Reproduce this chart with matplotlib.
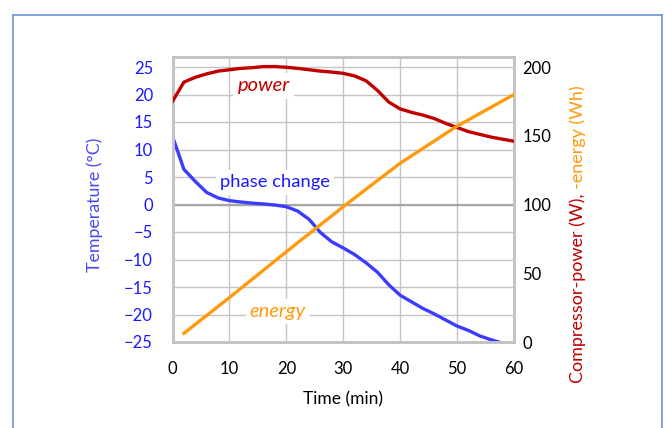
import matplotlib
matplotlib.use("Agg")
import matplotlib.pyplot as plt
from matplotlib.lines import Line2D

plt.rcParams['font.family'] = ['Lato', 'DejaVu Sans']

# ---- data ----
power_time = [0, 2, 4, 6, 8, 10, 12, 14, 16, 18, 20, 22, 24, 26, 28, 30,
              32, 34, 36, 38, 40, 42, 44, 46, 48, 50, 52, 54, 56, 58, 60]
power_w = [175, 189, 192.5, 195, 197, 198, 199, 199.5, 200.3, 200.3, 199.8,
           199, 198, 197, 196.3, 195.4, 193.5, 190, 183, 174.5, 169.5, 167,
           165, 162.5, 159, 156, 153, 151, 149, 147.5, 146]

temp_time = [0, 2, 4, 6, 8, 10, 12, 14, 16, 18, 20, 22, 24, 26, 28, 30,
             32, 34, 36, 38, 40, 42, 44, 46, 48, 50, 52, 54, 56, 57.3]
temp_c = [12.4, 6.4, 4.2, 2.2, 1.2, 0.7, 0.45, 0.25, 0.1, -0.1, -0.4, -1.2,
          -2.7, -5.1, -6.8, -7.9, -9.1, -10.6, -12.3, -14.6, -16.5, -17.7,
          -18.9, -19.9, -21.0, -22.1, -22.9, -23.9, -24.6, -25.0]

energy_time = [2, 4, 6, 8, 10, 12, 14, 16, 18, 20, 22, 24, 26, 28, 30, 32,
               34, 36, 38, 40, 42, 44, 46, 48, 50, 52, 54, 56, 58, 60]
energy_wh = [6.3, 12.8, 19.3, 25.8, 32.3, 39.0, 45.6, 52.3, 59.0, 65.6, 72.2,
             78.7, 85.3, 91.8, 98.4, 104.7, 111.1, 117.4, 123.7, 130.0, 135.4,
             140.8, 146.2, 151.6, 157.0, 161.6, 166.2, 170.8, 175.4, 180.0]

x_ticks = [0, 10, 20, 30, 40, 50, 60]
temp_ticks = [25, 20, 15, 10, 5, 0, -5, -10, -15, -20, -25]
right_ticks = [0, 50, 100, 150, 200]

RED = '#C00000'
BLUE = '#3C3CFF'
BLUE_TXT = '#1A1AFF'
ORANGE = '#FF9A0E'
GRID = '#C4C4C4'

fig = plt.figure(figsize=(6.65, 4.28), dpi=100)
W, H = 665, 428

def fx(px):
    return px / W

def fy(py):
    return 1 - py / H

# outer frame (blue, no bottom edge)
fc = '#6A96D4'
fig.add_artist(Line2D([fx(12.5), fx(12.5)], [fy(14.5), 0], color=fc, lw=1.2, transform=fig.transFigure))
fig.add_artist(Line2D([fx(12.5), fx(662)], [fy(14.5), fy(14.5)], color=fc, lw=1.2, transform=fig.transFigure))
fig.add_artist(Line2D([fx(662), fx(662)], [fy(14.5), 0], color=fc, lw=1.2, transform=fig.transFigure))

left, right, top, bottom = 172.5, 514, 57, 342
ax = fig.add_axes([fx(left), fy(bottom), fx(right) - fx(left), (bottom - top) / H])
ax2 = ax.twinx()

t_top = 25 + 10 / 5.5
ax.set_xlim(0, 60)
ax.set_ylim(-25, t_top)
ax2.set_ylim(0, 200 * (t_top + 25) / 50)

ax.set_xticks(x_ticks)
ax.set_yticks(temp_ticks)
ax2.set_yticks(right_ticks)

ax.grid(True, color=GRID, lw=1.0)
ax.set_axisbelow(True)
ax.axhline(0, color='#A6A6A6', lw=1.6, zorder=1)

for a in (ax, ax2):
    for s in a.spines.values():
        s.set_color(GRID)
        s.set_linewidth(2.0)

ax.tick_params(axis='both', length=0)
ax.tick_params(axis='y', colors=BLUE_TXT, labelsize=12, pad=14)
ax.tick_params(axis='x', colors='black', labelsize=12, pad=14)
ax2.tick_params(axis='y', length=0, colors='black', labelsize=12, pad=6)

# lines
ax.plot(temp_time, temp_c, color=BLUE, lw=2.4, zorder=3)
ax2.plot(power_time, power_w, color=RED, lw=2.4, zorder=3)
ax2.plot(energy_time, energy_wh, color=ORANGE, lw=2.4, zorder=3)

bbox = dict(facecolor='white', edgecolor='none', pad=3)
ax2.text(16.0, 186.2, 'power', color=RED, fontsize=14.5, style='italic',
         ha='center', va='center', bbox=bbox, zorder=4)
ax.text(18.0, 4.0, 'phase change', color=BLUE_TXT, fontsize=13.2,
        ha='center', va='center', bbox=bbox, zorder=4)
ax2.text(18.5, 22.0, 'energy', color=ORANGE, fontsize=14.5, style='italic',
         ha='center', va='center', bbox=bbox, zorder=4)

# axis labels
ax.set_xlabel('Time (min)', fontsize=12.5, labelpad=10)
fig.text(fx(95), fy(205), 'Temperature (°C)', color='#4A4AF0', fontsize=12.8,
         rotation=90, ha='center', va='center')

# two-coloured right label
t1 = fig.text(fx(578), fy(383), 'Compressor-power (W), ', color=RED, fontsize=13,
              rotation=90, ha='center', va='bottom')
fig.canvas.draw()
bb = t1.get_window_extent()
fig.text(fx(578), bb.y1 / fig.dpi / 4.28, '-energy (Wh)', color=ORANGE, fontsize=13,
         rotation=90, ha='center', va='bottom')

fig.savefig('out.png', dpi=100)
